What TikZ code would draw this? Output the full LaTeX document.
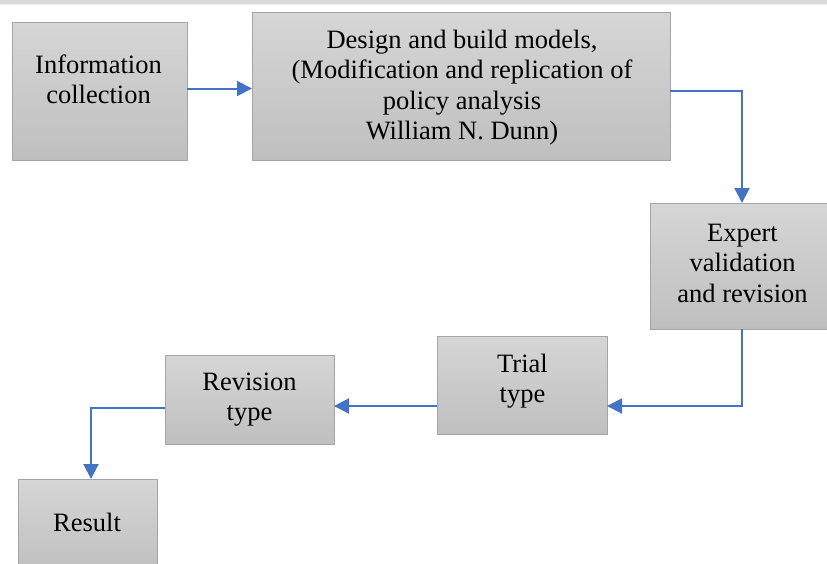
\documentclass[tikz,border=0pt]{standalone}
\usepackage{fontspec}
\setmainfont{Liberation Serif}
\usetikzlibrary{arrows.meta}
\definecolor{boxtop}{RGB}{214,214,214}
\definecolor{boxbot}{RGB}{191,191,191}
\definecolor{boxline}{RGB}{165,165,165}
\definecolor{flow}{RGB}{68,114,196}
\definecolor{band}{RGB}{217,217,217}
\begin{document}
\begin{tikzpicture}[x=1pt,y=-1pt,
  box/.style={rectangle, draw=boxline, line width=1pt, top color=boxtop, bottom color=boxbot,
              inner sep=0pt, outer sep=0pt, anchor=north west},
  txt/.style={inner sep=0pt, outer sep=0pt, anchor=base, text=black,
              font=\fontsize{26.5}{30.5}\selectfont},
  flowline/.style={draw=flow, line width=2pt, -{Triangle[length=15pt,width=15pt]}}
]
\useasboundingbox (0,0) rectangle (827,563);
\clip (0,0) rectangle (827,563);
\fill[band] (0,0) rectangle (827,4);
\fill[black!6] (0,4) rectangle (827,5);

% boxes
\node[box, minimum width=175pt, minimum height=138pt] (info) at (12,22) {};
\node[box, minimum width=418pt, minimum height=148pt] (design) at (252,12) {};
\node[box, minimum width=177pt, minimum height=126pt] (expert) at (650,203) {};
\node[box, minimum width=170pt, minimum height=98pt] (trial) at (437,336) {};
\node[box, minimum width=169pt, minimum height=89pt] (revision) at (165,355) {};
\node[box, minimum width=139pt, minimum height=95pt] (result) at (18,479) {};

% texts
\node[txt] (infotxt) at (98.5,73) {\begin{tabular}[t]{@{}c@{}}Information\\collection\end{tabular}};
\node[txt] (designtxt) at (462,48) {\begin{tabular}[t]{@{}c@{}}Design and build models,\\(Modification and replication of\\policy analysis\\William N. Dunn)\end{tabular}};
\node[txt] (experttxt) at (742.5,241) {\begin{tabular}[t]{@{}c@{}}Expert\\validation\\and revision\end{tabular}};
\node[txt] (trialtxt) at (522.5,372) {\begin{tabular}[t]{@{}c@{}}Trial\\type\end{tabular}};
\node[txt] (revisiontxt) at (249.5,390) {\begin{tabular}[t]{@{}c@{}}Revision\\type\end{tabular}};
\node[txt] (resulttxt) at (87,531) {Result};

% connectors
\draw[flowline] ([yshift=2.5pt]info.east) -- ([yshift=2.5pt]info.east -| design.west);
\draw[flowline] ([yshift=-5pt]design.east) -| ([xshift=3.5pt]expert.north);
\draw[flowline] ([xshift=3.5pt]expert.south) |- ([yshift=-21pt]trial.east);
\draw[flowline] ([yshift=-21pt]trial.west) -- ([yshift=-21pt]trial.west -| revision.east);
\draw[flowline] ([yshift=-8.5pt]revision.west) -| ([xshift=3.5pt]result.north);
\end{tikzpicture}
\end{document}
